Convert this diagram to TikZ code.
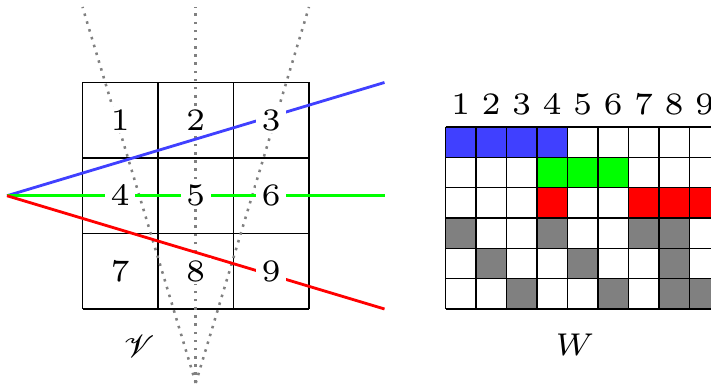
\documentclass[tikz,border=0pt]{standalone}
\usepackage{graphicx}
\usepackage{mathrsfs}
\definecolor{lblue}{RGB}{64,64,255}
\definecolor{lgreen}{RGB}{0,255,0}
\definecolor{lred}{RGB}{255,0,0}
\definecolor{lgray}{RGB}{128,128,128}
\newcommand{\lbltext}[1]{\scalebox{1.85}{\fontencoding{OT1}\fontfamily{cmr}\fontsize{6}{7.5}\selectfont #1}}
\newcommand{\mathlbl}[1]{\scalebox{1.6}{\fontsize{7}{8.5}\selectfont #1}}
\begin{document}
\begin{tikzpicture}[x=0.0125cm,y=-0.0125cm,
  lbl/.style={fill=white,inner xsep=1.9pt,inner ysep=1pt},
  hdr/.style={inner sep=0pt},
  ray/.style={line width=1pt},
  sight/.style={lgray,dotted,line width=0.9pt},
  gridline/.style={black,line width=0.5pt}]
\useasboundingbox (0,0) rectangle (711,386);
\clip (0,0) rectangle (711,386);
% 3x3 grid
\foreach \i in {0,...,3} {
  \draw[gridline] (82.5+75.5*\i,82.5) -- (82.5+75.5*\i,309);
  \draw[gridline] (82.5,82.5+75.5*\i) -- (309,82.5+75.5*\i);
}
% sight lines
\coordinate (apex) at (195.75,383);
\coordinate (t1) at (82.5,7);
\coordinate (t2) at (195.75,7);
\coordinate (t3) at (309,7);
\draw[sight] (apex) -- (t1);
\draw[sight] (apex) -- (t2);
\draw[sight] (apex) -- (t3);
% rays
\coordinate (o) at (7,195.75);
\coordinate (eb) at (384.5,82.5);
\coordinate (eg) at (384.5,195.75);
\coordinate (er) at (384.5,309);
\draw[ray,lblue] (o) -- (eb);
\draw[ray,lgreen] (o) -- (eg);
\draw[ray,lred] (o) -- (er);
% grid labels
\foreach \n [count=\k from 0] in {1,...,9} {
  \pgfmathtruncatemacro{\c}{mod(\k,3)}
  \pgfmathtruncatemacro{\r}{div(\k,3)}
  \node[lbl] (g\n) at (120.25+75.5*\c,120.25+75.5*\r) {\lbltext{\n}};
}
\node[inner sep=0pt] (lV) at (139,346) {\mathlbl{$\mathscr{V}$}};
% matrix
\def\mw{30.5}
\def\mh{30.33}
\foreach \row/\cols/\col in {0/{0,1,2,3}/lblue,1/{3,4,5}/lgreen,2/{3,6,7,8}/lred,
   3/{0,3,6,7}/lgray,4/{1,4,7}/lgray,5/{2,5,7,8}/lgray} {
  \foreach \cc in \cols {
    \fill[\col] (445.5+\mw*\cc,127+\mh*\row) rectangle ++(\mw,\mh);
  }
}
\foreach \i in {0,...,9} {
  \draw[gridline] (445.5+\mw*\i,127) -- (445.5+\mw*\i,309);
}
\foreach \j in {0,...,6} {
  \draw[gridline] (445.5,127+\mh*\j) -- (720,127+\mh*\j);
}
\foreach \n in {1,...,9} {
  \node[hdr] (m\n) at (445.5+\mw*\n-\mw/2,104) {\lbltext{\n}};
}
\node[inner sep=0pt] (lW) at (575,345) {\mathlbl{$W$}};
\end{tikzpicture}
\end{document}
